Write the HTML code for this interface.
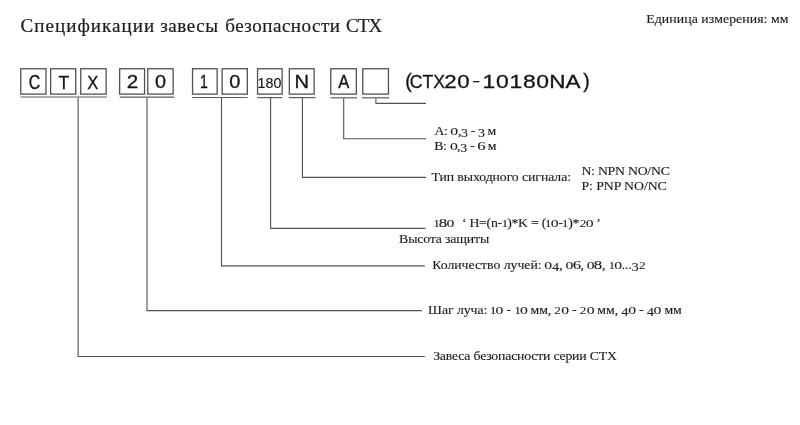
<!DOCTYPE html>
<html lang="ru"><head><meta charset="utf-8"><title>Спецификации завесы безопасности CTX</title>
<style>
html,body{margin:0;padding:0;background:#fff;}
body{width:800px;height:425px;position:relative;overflow:hidden;}
.t{position:absolute;left:0;top:0;white-space:pre;line-height:1;margin:0;transform-origin:0 0;}
svg{position:absolute;left:0;top:0;}
#pg{position:absolute;left:0;top:0;width:800px;height:425px;will-change:transform;}
.o{display:inline-block;font-size:.76em;line-height:1;letter-spacing:0;text-align:center;-webkit-text-stroke:.06px currentColor;}
.o0{width:.70em;transform:scaleX(1.5);}
.o1{width:.50em;transform:scaleX(1.3);}
.o2{width:.64em;transform:scaleX(1.25);}
.a{display:inline-block;width:.53em;text-align:center;letter-spacing:0;transform:scaleX(1.22);}
.d{position:relative;top:.18em;}
</style></head><body>
<div id="pg">
<svg width="800" height="425" viewBox="0 0 800 425" fill="none">
<g stroke="#525252" stroke-width="1.3" fill="#fff">
<rect x="20.75" y="68.75" width="25.20" height="25.35"/>
<rect x="50.65" y="68.75" width="25.10" height="25.35"/>
<rect x="80.75" y="68.75" width="25.40" height="25.35"/>
<rect x="119.65" y="68.75" width="24.90" height="25.35"/>
<rect x="147.75" y="68.75" width="25.40" height="25.35"/>
<rect x="192.55" y="68.75" width="24.60" height="25.35"/>
<rect x="222.15" y="68.75" width="25.20" height="25.35"/>
<rect x="257.55" y="68.75" width="24.60" height="25.35"/>
<rect x="289.35" y="68.75" width="24.80" height="25.35"/>
<rect x="330.75" y="68.75" width="25.60" height="25.35"/>
<rect x="362.75" y="68.75" width="25.70" height="25.35"/>
</g>
<g stroke="#5e5e5e" stroke-width="1.2">
<line x1="20.6" y1="97.0" x2="107" y2="97.0"/>
<line x1="119.8" y1="97.2" x2="174.3" y2="97.2"/>
<line x1="192.2" y1="97.5" x2="247.7" y2="97.5"/>
<line x1="257.2" y1="97.6" x2="282.4" y2="97.6"/>
<line x1="288.7" y1="97.6" x2="315.7" y2="97.6"/>
<line x1="330.3" y1="97.8" x2="357" y2="97.8"/>
<line x1="362" y1="97.8" x2="389.2" y2="97.8"/>
</g>
<g stroke="#525252" stroke-width="1.1" stroke-linejoin="miter">
<polyline points="78.1,97.5 78.1,356.45 424.8,356.45"/>
<polyline points="147.0,97.7 147.0,310.6 421.8,310.6"/>
<polyline points="221.5,98 221.5,265.85 424.8,265.85"/>
<polyline points="270.6,98.1 270.6,228.4 425.5,228.4"/>
<polyline points="302.45,98.1 302.45,177.4 426,177.4"/>
<polyline points="343.7,98.3 343.7,138.7 426,138.7"/>
<polyline points="375.9,98.3 375.9,103.4 426,103.4"/>
</g>
</svg>
<div class="t" id="m1" style="font-family:'Liberation Sans', sans-serif;letter-spacing:0px;font-size:19px;transform:translate(405.22px,71.66px) scale(1.0273,1.0444);color:#151515;-webkit-text-stroke:0.3px #151515">(</div>
<div class="t" id="m2" style="font-family:'Liberation Sans', sans-serif;letter-spacing:0px;font-size:19px;transform:translate(409.76px,71.81px) scale(0.9293,0.9964);color:#151515;-webkit-text-stroke:0.3px #151515">CTX</div>
<div class="t" id="m3" style="font-family:'Liberation Sans', sans-serif;letter-spacing:0.4px;font-size:19px;transform:translate(444.37px,71.86px) scale(1.1728,0.9964);color:#151515;-webkit-text-stroke:0.3px #151515">20</div>
<div class="t" id="m4" style="font-family:'Liberation Sans', sans-serif;letter-spacing:0px;font-size:19px;transform:translate(472.28px,73.87px) scale(1.2600,0.7000);color:#151515;-webkit-text-stroke:0.3px #151515">-</div>
<div class="t" id="m5" style="font-family:'Liberation Sans', sans-serif;letter-spacing:0.6px;font-size:19px;transform:translate(482.49px,71.64px) scale(1.2056,1.0036);color:#151515;-webkit-text-stroke:0.3px #151515">10180</div>
<div class="t" id="m6" style="font-family:'Liberation Sans', sans-serif;letter-spacing:0px;font-size:19px;transform:translate(549.22px,71.99px) scale(1.1840,0.9778);color:#151515;-webkit-text-stroke:0.3px #151515">NA</div>
<div class="t" id="m7" style="font-family:'Liberation Sans', sans-serif;letter-spacing:0px;font-size:19px;transform:translate(583.20px,71.66px) scale(1.0273,1.0444);color:#151515;-webkit-text-stroke:0.3px #151515">)</div>
<div class="t" id="b1" style="font-family:'Liberation Sans', sans-serif;letter-spacing:0px;font-size:18px;transform:translate(28.68px,72.53px) scale(0.8851,1.1000);color:#151515;-webkit-text-stroke:0.3px #151515">C</div>
<div class="t" id="b2" style="font-family:'Liberation Sans', sans-serif;letter-spacing:0px;font-size:18px;transform:translate(58.51px,72.83px) scale(0.9762,1.0667);color:#151515;-webkit-text-stroke:0.3px #151515">T</div>
<div class="t" id="b3" style="font-family:'Liberation Sans', sans-serif;letter-spacing:0px;font-size:18px;transform:translate(87.27px,72.83px) scale(0.9217,1.0667);color:#151515;-webkit-text-stroke:0.3px #151515">X</div>
<div class="t" id="b4" style="font-family:'Liberation Sans', sans-serif;letter-spacing:0px;font-size:18px;transform:translate(126.64px,73.13px) scale(1.1471,0.9885);color:#151515;-webkit-text-stroke:0.3px #151515">2</div>
<div class="t" id="b5" style="font-family:'Liberation Sans', sans-serif;letter-spacing:0px;font-size:18px;transform:translate(154.88px,72.70px) scale(1.1029,1.0231);color:#151515;-webkit-text-stroke:0.3px #151515">0</div>
<div class="t" id="b6" style="font-family:'Liberation Sans', sans-serif;letter-spacing:0px;font-size:18px;transform:translate(200.02px,72.21px) scale(0.7812,1.0353);color:#151515;-webkit-text-stroke:0.3px #151515">1</div>
<div class="t" id="b7" style="font-family:'Liberation Sans', sans-serif;letter-spacing:0px;font-size:18px;transform:translate(229.19px,72.52px) scale(1.1111,1.0385);color:#151515;-webkit-text-stroke:0.3px #151515">0</div>
<div class="t" id="b8" style="font-family:'Liberation Sans', sans-serif;letter-spacing:0px;font-size:16px;transform:translate(257.61px,75.08px) scale(0.8911,0.9652);color:#151515;-webkit-text-stroke:0.15px #151515">180</div>
<div class="t" id="b9" style="font-family:'Liberation Sans', sans-serif;letter-spacing:0px;font-size:18px;transform:translate(294.60px,72.23px) scale(1.1190,1.0510);color:#151515;-webkit-text-stroke:0.3px #151515">N</div>
<div class="t" id="b10" style="font-family:'Liberation Sans', sans-serif;letter-spacing:0px;font-size:18px;transform:translate(338.19px,72.45px) scale(0.9224,1.0196);color:#151515;-webkit-text-stroke:0.3px #151515">A</div>
<div class="t" id="t1a" style="font-family:'Liberation Serif', serif;font-size:18px;letter-spacing:0.965px;transform:translate(20.50px,16.94px) scaleX(1.06);color:#1c1c1c;-webkit-text-stroke:0.2px #1c1c1c">Спецификации </div>
<div class="t" id="t1b" style="font-family:'Liberation Serif', serif;font-size:18px;letter-spacing:0.519px;transform:translate(160.25px,16.94px) scaleX(1.06);color:#1c1c1c;-webkit-text-stroke:0.2px #1c1c1c">завесы </div>
<div class="t" id="t1c" style="font-family:'Liberation Serif', serif;font-size:18px;letter-spacing:0.450px;transform:translate(225.25px,16.94px) scaleX(1.06);color:#1c1c1c;-webkit-text-stroke:0.2px #1c1c1c">безопасности </div>
<div class="t" id="t1d" style="font-family:'Liberation Serif', serif;font-size:18px;letter-spacing:-0.967px;transform:translate(346.10px,16.94px) scaleX(1.06);color:#1c1c1c;-webkit-text-stroke:0.2px #1c1c1c">CTX</div>
<div class="t" id="t2" style="font-family:'Liberation Serif', serif;font-size:13px;letter-spacing:0.073px;transform:translate(646.25px,12.02px) scaleX(1.06);color:#1c1c1c;-webkit-text-stroke:0.14px #1c1c1c">Единица измерения: мм</div>
<div class="t" id="t3" style="font-family:'Liberation Serif', serif;font-size:13px;letter-spacing:-0.347px;transform:translate(434.50px,124.02px) scaleX(1.06);color:#1c1c1c;-webkit-text-stroke:0.14px #1c1c1c">A: <span class="o o0">0</span>,<span class="d">3</span> - <span class="d">3</span> м</div>
<div class="t" id="t4" style="font-family:'Liberation Serif', serif;font-size:13px;letter-spacing:-0.304px;transform:translate(434.25px,139.02px) scaleX(1.06);color:#1c1c1c;-webkit-text-stroke:0.14px #1c1c1c">B: <span class="o o0">0</span>,<span class="d">3</span> - <span class="a">6</span> м</div>
<div class="t" id="t5" style="font-family:'Liberation Serif', serif;font-size:13px;letter-spacing:-0.083px;transform:translate(431.45px,170.02px) scaleX(1.06);color:#1c1c1c;-webkit-text-stroke:0.14px #1c1c1c">Тип выходного сигнала:</div>
<div class="t" id="t6" style="font-family:'Liberation Serif', serif;font-size:13px;letter-spacing:-0.227px;transform:translate(581.40px,164.02px) scaleX(1.06);color:#1c1c1c;-webkit-text-stroke:0.14px #1c1c1c">N: NPN NO/NC</div>
<div class="t" id="t7" style="font-family:'Liberation Serif', serif;font-size:13px;letter-spacing:-0.060px;transform:translate(581.40px,179.02px) scaleX(1.06);color:#1c1c1c;-webkit-text-stroke:0.14px #1c1c1c">P: PNP NO/NC</div>
<div class="t" id="t8" style="font-family:'Liberation Serif', serif;font-size:13px;letter-spacing:0.000px;transform:translate(434.00px,216.02px) scaleX(1.06);color:#1c1c1c;-webkit-text-stroke:0.14px #1c1c1c"><span class="o o1">1</span><span class="a">8</span><span class="o o0">0</span></div>
<div class="t" id="t8b" style="font-family:'Liberation Serif', serif;font-size:13px;letter-spacing:-0.244px;transform:translate(461.90px,216.02px) scaleX(1.06);color:#1c1c1c;-webkit-text-stroke:0.14px #1c1c1c">‘ H=(n-<span class="o o1">1</span>)*K = (<span class="o o1">1</span><span class="o o0">0</span>-<span class="o o1">1</span>)*<span class="o o2">2</span><span class="o o0">0</span> ’</div>
<div class="t" id="t9" style="font-family:'Liberation Serif', serif;font-size:13px;letter-spacing:-0.142px;transform:translate(399.10px,232.02px) scaleX(1.06);color:#1c1c1c;-webkit-text-stroke:0.14px #1c1c1c">Высота защиты</div>
<div class="t" id="t10" style="font-family:'Liberation Serif', serif;font-size:13px;letter-spacing:-0.026px;transform:translate(432.25px,258.02px) scaleX(1.06);color:#1c1c1c;-webkit-text-stroke:0.14px #1c1c1c">Количество лучей: <span class="o o0">0</span><span class="d">4</span>, <span class="o o0">0</span><span class="a">6</span>, <span class="o o0">0</span><span class="a">8</span>, <span class="o o1">1</span><span class="o o0">0</span>...<span class="d">3</span><span class="o o2">2</span></div>
<div class="t" id="t11" style="font-family:'Liberation Serif', serif;font-size:13px;letter-spacing:-0.056px;transform:translate(428.05px,303.02px) scaleX(1.06);color:#1c1c1c;-webkit-text-stroke:0.14px #1c1c1c">Шаг луча: <span class="o o1">1</span><span class="o o0">0</span> - <span class="o o1">1</span><span class="o o0">0</span> мм, <span class="o o2">2</span><span class="o o0">0</span> - <span class="o o2">2</span><span class="o o0">0</span> мм, <span class="d">4</span><span class="o o0">0</span> - <span class="d">4</span><span class="o o0">0</span> мм</div>
<div class="t" id="t12" style="font-family:'Liberation Serif', serif;font-size:13px;letter-spacing:-0.189px;transform:translate(433.15px,349.02px) scaleX(1.06);color:#1c1c1c;-webkit-text-stroke:0.14px #1c1c1c">Завеса безопасности серии CTX</div>
</div>
</body></html>
